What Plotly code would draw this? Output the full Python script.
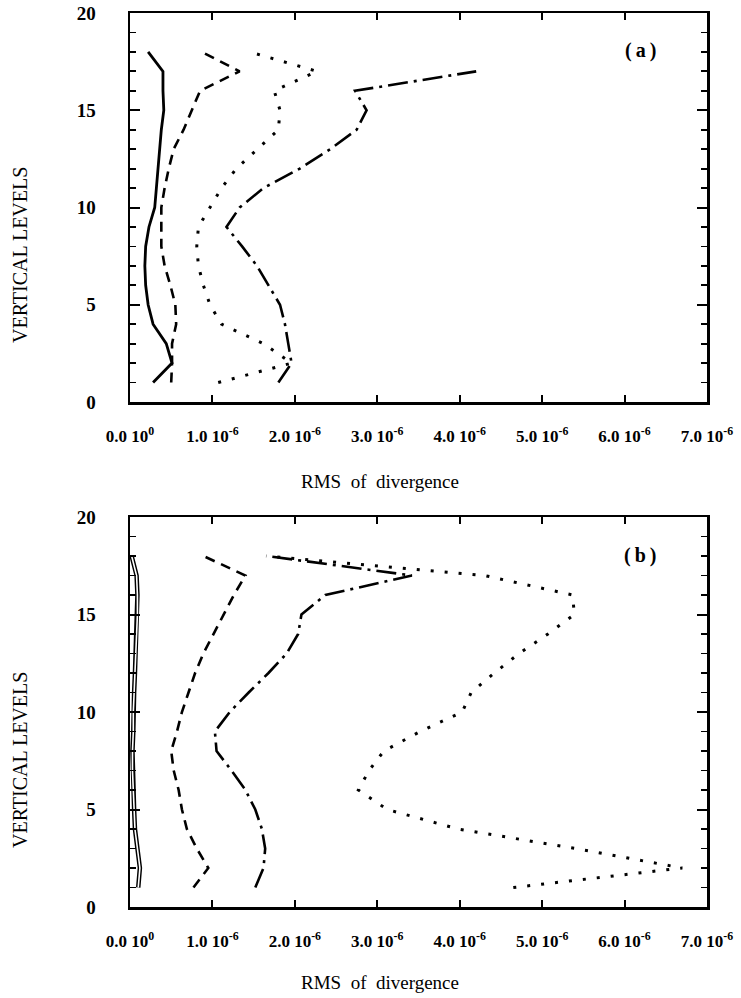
import plotly.graph_objects as go

# ---------------- data (RMS of divergence, in units of 1e-6) ----------------
levels = list(range(1, 19))
levels_17 = list(range(1, 18))

a_solid = [0.28, 0.51, 0.44, 0.28, 0.22, 0.19, 0.18, 0.19, 0.23, 0.30, 0.32, 0.34, 0.36, 0.38, 0.41, 0.40, 0.40, 0.22]
a_dash = [0.50, 0.51, 0.51, 0.56, 0.55, 0.49, 0.42, 0.38, 0.38, 0.38, 0.42, 0.47, 0.53, 0.65, 0.75, 0.85, 1.33, 0.87]
a_dot = [1.07, 1.96, 1.62, 1.11, 0.97, 0.89, 0.83, 0.81, 0.83, 0.97, 1.11, 1.29, 1.54, 1.80, 1.82, 1.75, 2.27, 1.45]
a_dashdot = [1.80, 1.96, 1.92, 1.88, 1.82, 1.68, 1.54, 1.36, 1.17, 1.33, 1.62, 2.06, 2.43, 2.75, 2.87, 2.73, 4.20]

b_solid = [0.10, 0.12, 0.09, 0.06, 0.05, 0.04, 0.03, 0.03, 0.04, 0.04, 0.05, 0.06, 0.07, 0.08, 0.09, 0.09, 0.08, 0.02]
b_dash = [0.77, 0.95, 0.81, 0.69, 0.63, 0.59, 0.53, 0.50, 0.57, 0.63, 0.71, 0.79, 0.89, 1.01, 1.13, 1.26, 1.40, 0.89]
b_dot = [4.65, 6.70, 5.40, 3.98, 3.12, 2.77, 2.90, 3.08, 3.52, 4.03, 4.14, 4.42, 4.72, 5.07, 5.39, 5.37, 4.30, 1.65]
b_dashdot = [1.52, 1.62, 1.64, 1.60, 1.52, 1.40, 1.23, 1.05, 1.03, 1.21, 1.44, 1.68, 1.90, 2.04, 2.08, 2.37, 3.42, 1.66]

x_tick_vals = [0, 1, 2, 3, 4, 5, 6, 7]
x_tick_text = ["0.0 10<sup>0</sup>", "1.0 10<sup>-6</sup>", "2.0 10<sup>-6</sup>", "3.0 10<sup>-6</sup>",
               "4.0 10<sup>-6</sup>", "5.0 10<sup>-6</sup>", "6.0 10<sup>-6</sup>", "7.0 10<sup>-6</sup>"]
y_tick_vals = [0, 5, 10, 15, 20]
y_title = "VERTICAL LEVELS"
x_title = "RMS\u00a0\u00a0of\u00a0\u00a0divergence"
panel_labels = ["(\u2009a\u2009)", "(\u2009b\u2009)"]

# ---------------- figure ----------------
W, H = 741, 998
SERIF = "Liberation Serif"
fig = go.Figure()

def add(vals, lv, dash, xa, ya, width=2.6, color="black"):
    fig.add_trace(go.Scatter(
        x=[v * 1e-6 for v in vals], y=lv, mode="lines",
        line=dict(color=color, width=width, dash=dash),
        xaxis=xa, yaxis=ya, showlegend=False, hoverinfo="skip"))

DOT = "3px,11px"
DASH = "10px,7px"
DASHDOT = "20px,6px,3px,6px"

add(a_solid, levels, "solid", "x", "y", 2.8)
add(a_dash, levels, DASH, "x", "y")
add(a_dot, levels, DOT, "x", "y", 3)
add(a_dashdot, levels_17, DASHDOT, "x", "y")

# panel (b) solid curve is drawn as a hollow (outlined) line in the original
add(b_solid, levels, "solid", "x2", "y2", 4.5)
add(b_solid, levels, "solid", "x2", "y2", 1.6, "white")
add(b_dash, levels, DASH, "x2", "y2")
add(b_dot, levels, DOT, "x2", "y2", 3)
add(b_dashdot, levels, DASHDOT, "x2", "y2")

xdom = [130 / W, 707 / W]
ydom_a = [(H - 402) / H, (H - 13) / H]
ydom_b = [(H - 907) / H, (H - 517) / H]

xaxis_common = dict(
    range=[0, 7e-6], tickvals=[v * 1e-6 for v in x_tick_vals], ticktext=x_tick_text,
    ticks="inside", ticklen=7, tickwidth=2, tickcolor="black",
    showline=True, linewidth=2.5, linecolor="black", mirror="ticks",
    showgrid=False, zeroline=False, domain=xdom, automargin=False,
    tickfont=dict(family=SERIF, size=17, color="black", weight="bold"),
    ticklabelstandoff=17,
)
yaxis_common = dict(
    range=[0, 20], tickvals=y_tick_vals,
    ticks="inside", ticklen=10, tickwidth=2, tickcolor="black",
    minor=dict(ticks="inside", ticklen=6, tickwidth=1.8, tickcolor="black", dtick=1, showgrid=False),
    showline=True, linewidth=2.5, linecolor="black", mirror="ticks",
    showgrid=False, zeroline=False, automargin=False,
    tickfont=dict(family=SERIF, size=19, color="black", weight="bold"),
    ticklabelstandoff=28,
)

fig.update_layout(
    width=W, height=H, margin=dict(l=0, r=0, t=0, b=0),
    paper_bgcolor="white", plot_bgcolor="white",
    xaxis=dict(anchor="y", **xaxis_common),
    yaxis=dict(anchor="x", domain=ydom_a, **yaxis_common),
    xaxis2=dict(anchor="y2", **xaxis_common),
    yaxis2=dict(anchor="x2", domain=ydom_b, **yaxis_common),
)

ann = []
for lab, ycen in zip(panel_labels, [50, 555]):
    ann.append(dict(text=lab, x=640 / W, y=1 - ycen / H, xref="paper", yref="paper",
                    showarrow=False, xanchor="center", yanchor="middle",
                    font=dict(family=SERIF, size=20, color="black", weight="bold")))
for ycen in [255, 760]:
    ann.append(dict(text=y_title, x=20 / W, y=1 - ycen / H, xref="paper", yref="paper",
                    showarrow=False, xanchor="center", yanchor="middle", textangle=-90,
                    font=dict(family=SERIF, size=20, color="black")))
for ycen in [482, 982]:
    ann.append(dict(text=x_title, x=380 / W, y=1 - ycen / H, xref="paper", yref="paper",
                    showarrow=False, xanchor="center", yanchor="middle",
                    font=dict(family=SERIF, size=19, color="black")))
fig.update_layout(annotations=ann)

fig.write_html("out.html", config={"displayModeBar": False, "staticPlot": True},
               post_script="document.body.style.margin='0px';document.body.style.overflow='hidden';")
